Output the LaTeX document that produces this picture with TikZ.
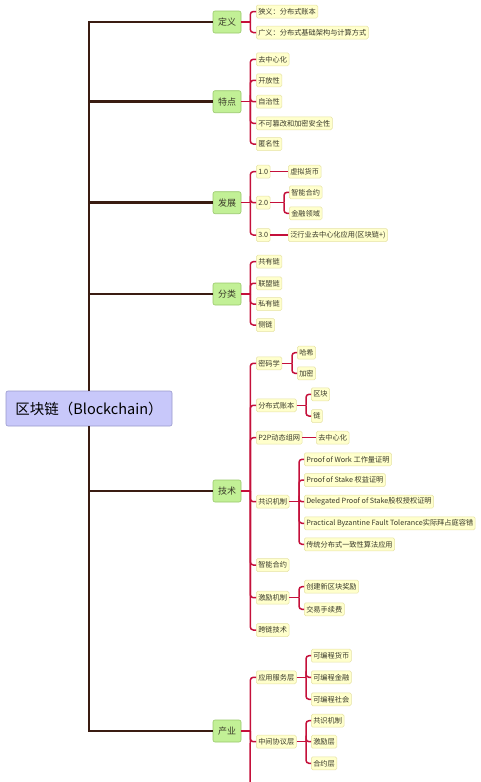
\documentclass[tikz,border=0pt]{standalone}
\usepackage{fontspec}
\setmainfont{Noto Sans CJK SC}
\usetikzlibrary{calc}
\definecolor{trunkc}{HTML}{3A1C12}
\definecolor{redc}{HTML}{C4103A}
\definecolor{rootfill}{HTML}{C8C8FA}
\definecolor{rootdraw}{HTML}{9898CC}
\definecolor{topicfill}{HTML}{C2F096}
\definecolor{topicdraw}{HTML}{98C86A}
\definecolor{leaffill}{HTML}{FFFFCC}
\definecolor{leafdraw}{HTML}{E6E2A6}
\definecolor{txt}{HTML}{3A3A2A}
\begin{document}
\begin{tikzpicture}[x=1pt,y=-1pt,
  trunk/.style={draw=trunkc,line width=2.6pt},
  branch/.style={draw=redc,line width=1.5pt},
  bendline/.style={branch,rounded corners=3pt},
  rootbox/.style={draw=rootdraw,fill=rootfill,line width=0.6pt,rounded corners=2pt,
    minimum width=166pt,minimum height=35pt,inner sep=2pt,font=\fontsize{14.5}{16}\selectfont,text=black},
  topic/.style={draw=topicdraw,fill=topicfill,line width=0.6pt,rounded corners=2pt,
    minimum width=28pt,minimum height=22pt,inner sep=1pt,font=\fontsize{9}{10}\selectfont,text=txt},
  leaf/.style={draw=leafdraw,fill=leaffill,line width=0.5pt,rounded corners=1.5pt,anchor=west,
    minimum height=13pt,inner xsep=2pt,inner ysep=1pt,font=\fontsize{7.2}{8}\selectfont,text=txt}]
\useasboundingbox (0,0) rectangle (480,782);
\begin{scope}
\clip (0,0) rectangle (480,782);
% root
\node[rootbox] (root) at (89,408.5) {区块链（Blockchain）};
% level 1
\node[topic] (dy) at (227,22) {定义};
\node[topic] (td) at (227,101.7) {特点};
\node[topic] (fz) at (227,202.7) {发展};
\node[topic] (fl) at (227,294) {分类};
\node[topic] (js) at (227,491) {技术};
\node[topic] (cy) at (227,731) {产业};
\foreach \n in {dy,td,fz,fl} \draw[trunk] (root.north) |- (\n.west);
\foreach \n in {js,cy} \draw[trunk] (root.south) |- (\n.west);
% 定义
\node[leaf] (dy1) at (256,11.5) {狭义：分布式账本};
\node[leaf] (dy2) at (256,32.5) {广义：分布式基础架构与计算方式};
% 特点
\node[leaf] (td1) at (256,59.3) {去中心化};
\node[leaf] (td2) at (256,80.3) {开放性};
\node[leaf] (td3) at (256,101.7) {自治性};
\node[leaf] (td4) at (256,123.3) {不可篡改和加密安全性};
\node[leaf] (td5) at (256,144) {匿名性};
% 发展
\node[leaf] (f1) at (256,171.7) {1.0};
\node[leaf] (f2) at (256,202.7) {2.0};
\node[leaf] (f3) at (256,235) {3.0};
\node[leaf] (f11) at (288,171.7) {虚拟货币};
\node[leaf] (f21) at (289,192.3) {智能合约};
\node[leaf] (f22) at (289,213.3) {金融领域};
\node[leaf] (f31) at (288,235) {泛行业去中心化应用(区块链+)};
% 分类
\node[leaf] (fl1) at (256,261.7) {共有链};
\node[leaf] (fl2) at (256,283.3) {联盟链};
\node[leaf] (fl3) at (256,304) {私有链};
\node[leaf] (fl4) at (256,325) {侧链};
% 技术
\node[leaf] (j1) at (256,363.3) {密码学};
\node[leaf] (j2) at (256,405.3) {分布式账本};
\node[leaf] (j3) at (256,437.7) {P2P动态组网};
\node[leaf] (j4) at (256,501.7) {共识机制};
\node[leaf] (j5) at (256,565) {智能合约};
\node[leaf] (j6) at (256,597.7) {激励机制};
\node[leaf] (j7) at (256,630) {跨链技术};
\node[leaf] (j11) at (297,352.7) {哈希};
\node[leaf] (j12) at (297,373.3) {加密};
\node[leaf] (j21) at (311,394.3) {区块};
\node[leaf] (j22) at (311,416) {链};
\node[leaf] (j31) at (316,437.7) {去中心化};
\node[leaf] (j41) at (304,459.3) {Proof of Work 工作量证明};
\node[leaf] (j42) at (304,480) {Proof of Stake 权益证明};
\node[leaf] (j43) at (304,501.7) {Delegated Proof of Stake股权授权证明};
\node[leaf] (j44) at (304,523.3) {Practical Byzantine Fault Tolerance实际拜占庭容错};
\node[leaf] (j45) at (304,544.3) {传统分布式一致性算法应用};
\node[leaf] (j61) at (304,586.7) {创建新区块奖励};
\node[leaf] (j62) at (304,609.3) {交易手续费};
% 产业
\node[leaf] (c1) at (256,677.3) {应用服务层};
\node[leaf] (c2) at (256,741.7) {中间协议层};
\node[leaf] (c11) at (311,655.7) {可编程货币};
\node[leaf] (c12) at (311,677.3) {可编程金融};
\node[leaf] (c13) at (311,699.3) {可编程社会};
\node[leaf] (c21) at (311,720.7) {共识机制};
\node[leaf] (c22) at (311,741.7) {激励层};
\node[leaf] (c23) at (311,763.3) {合约层};
\coordinate (cyend) at (250,800);
% level-1 brackets
\foreach \p/\cs in {dy/{dy1,dy2},td/{td1,td2,td3,td4,td5},fz/{f1,f2,f3},fl/{fl1,fl2,fl3,fl4},js/{j1,j2,j3,j4,j5,j6,j7},cy/{c1,c2}}{
  \coordinate (\p b) at ($(\p.east)+(9,0)$);
  \draw[branch] (\p.east) -- (\p b);
  \foreach \c in \cs \draw[bendline] (\p b) |- (\c.west);
}
\draw[branch] (cyb) -- (cyend);
% level-2 brackets
\foreach \p/\f/\cs in {f2/f21/{f21,f22},j1/j11/{j11,j12},j2/j21/{j21,j22},j4/j41/{j41,j42,j43,j44,j45},j6/j61/{j61,j62},c1/c11/{c11,c12,c13},c2/c21/{c21,c22,c23}}{
  \coordinate (\p b) at ($(\f.west |- \p.east)+(-5,0)$);
  \draw[branch] (\p.east) -- (\p b);
  \foreach \c in \cs \draw[bendline] (\p b) |- (\c.west);
}
\foreach \p/\c in {f1/f11,f3/f31,j3/j31} \draw[branch] (\p.east) -- (\c.west);
\end{scope}
\end{tikzpicture}
\end{document}
